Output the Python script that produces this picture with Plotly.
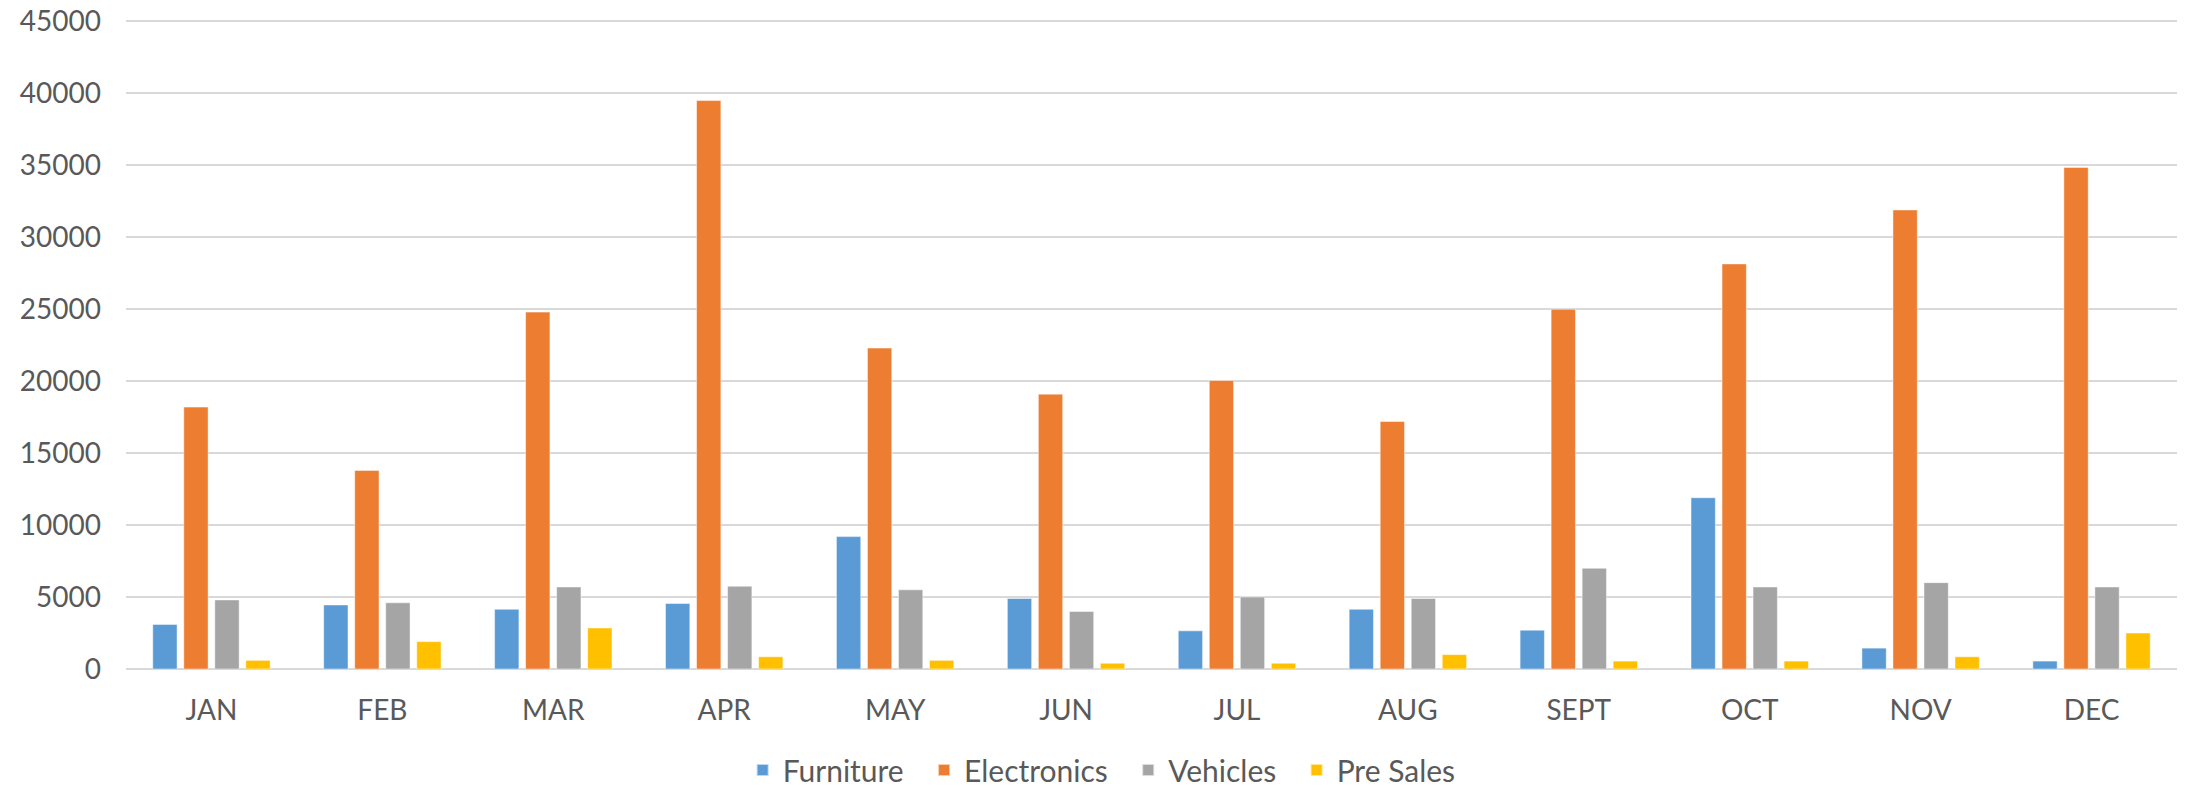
import plotly.graph_objects as go

months = ["JAN", "FEB", "MAR", "APR", "MAY", "JUN", "JUL", "AUG", "SEPT", "OCT", "NOV", "DEC"]
furniture = [3100, 4450, 4150, 4550, 9200, 4900, 2650, 4150, 2700, 11900, 1450, 550]
electronics = [18200, 13800, 24800, 39500, 22300, 19100, 20050, 17200, 25000, 28150, 31900, 34850]
vehicles = [4800, 4600, 5700, 5750, 5500, 4000, 5000, 4900, 7000, 5700, 6000, 5700]
pre_sales = [600, 1900, 2850, 850, 600, 400, 400, 1000, 550, 550, 850, 2500]

series = [
    ("Furniture", furniture, "#5B9BD5"),
    ("Electronics", electronics, "#ED7D31"),
    ("Vehicles", vehicles, "#A5A5A5"),
    ("Pre Sales", pre_sales, "#FFC000"),
]

FONT = "Lato"
GREY = "#595959"
PAD = "\u00a0\u00a0"  # extra spacing between legend entries

fig = go.Figure()
for i, (name, vals, col) in enumerate(series):
    fig.add_trace(go.Bar(
        x=months, y=vals, name=name + (PAD if i < len(series) - 1 else ""),
        marker=dict(color=col, line=dict(color="rgba(255,255,255,0.6)", width=0.8)),
    ))

fig.update_layout(
    width=2188, height=789,
    paper_bgcolor="white", plot_bgcolor="white",
    barmode="group", bargap=0.274, bargroupgap=0.216,
    margin=dict(l=126, r=11, t=20, b=120, autoexpand=False),
    font=dict(family=FONT, color=GREY, size=28),
    showlegend=True,
    legend=dict(
        orientation="h", xref="container", yref="container",
        x=0.5035, xanchor="center", y=0.024, yanchor="middle",
        font=dict(family=FONT, size=30, color=GREY),
        itemwidth=30, tracegroupgap=0, itemsizing="constant",
    ),
    xaxis=dict(
        showgrid=False, showline=False, ticks="", automargin=False,
        tickfont=dict(family=FONT, size=28, color=GREY),
        ticklabelstandoff=22,
    ),
    yaxis=dict(
        range=[0, 45100], tickvals=list(range(0, 45001, 5000)), automargin=False,
        showgrid=True, gridcolor="#D9D9D9", gridwidth=1.5,
        zeroline=True, zerolinecolor="#D9D9D9", zerolinewidth=1.5,
        showline=False, ticks="",
        tickfont=dict(family=FONT, size=28, color=GREY),
        ticklabelstandoff=24, tickformat="d",
    ),
)

fig.write_html("out.html")
